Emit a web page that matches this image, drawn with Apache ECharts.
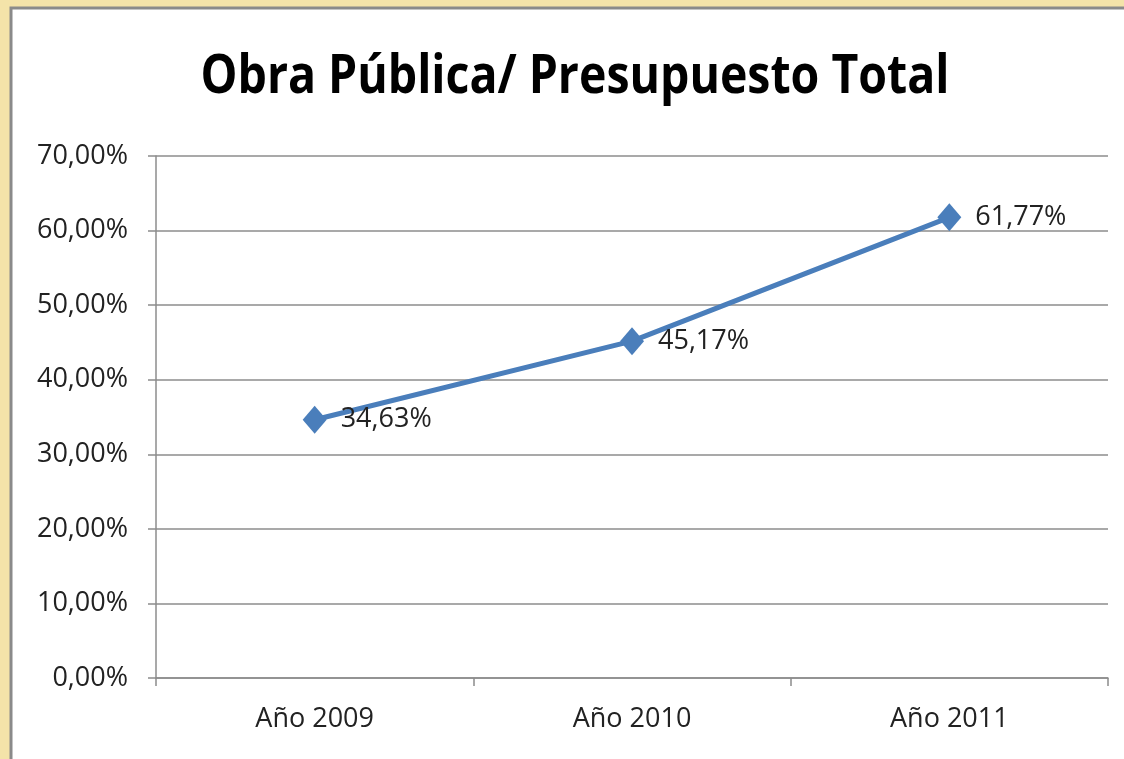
<!DOCTYPE html>
<html>
<head>
<meta charset="utf-8">
<script src="https://cdn.jsdelivr.net/npm/echarts@6/dist/echarts.min.js"></script>
<style>
  html, body { margin: 0; padding: 0; }
  #main { width: 1124px; height: 759px; }
</style>
</head>
<body>
<div id="main"></div>
<script>
// datos del gráfico
var categorias = ['Año 2009', 'Año 2010', 'Año 2011'];
var porcentajes = [34.63, 45.17, 61.77];

function fmtPct(v) {
  return v.toFixed(2).replace('.', ',') + '%';
}

var myChart = echarts.init(document.getElementById('main'));
var option = {
  backgroundColor: '#f4e3a9',
  animation: false,
  graphic: [{
    type: 'rect',
    z: -10,
    shape: { x: 11, y: 8, width: 1130, height: 770 },
    style: { fill: '#fff', stroke: '#8a8a8a', lineWidth: 3 }
  }, {
    // título (comprimido en X para parecerse a Calibri)
    type: 'text',
    x: 575,
    y: 78,
    scaleX: 0.86,
    style: {
      text: 'Obra Pública/ Presupuesto Total',
      font: 'bold 54px "Open Sans"',
      fill: '#000',
      align: 'center',
      verticalAlign: 'middle'
    }
  }],
  grid: { left: 156, right: 16, top: 156, bottom: 81 },
  xAxis: {
    type: 'category',
    data: categorias,
    boundaryGap: true,
    axisLine: { lineStyle: { color: '#8c8c8c', width: 1.5 } },
    axisTick: { show: true, length: 8, interval: 0, lineStyle: { color: '#8c8c8c', width: 1.5 } },
    axisLabel: { margin: 28, fontFamily: 'Open Sans', fontSize: 27, color: '#222' }
  },
  yAxis: {
    type: 'value',
    min: 0,
    max: 70,
    interval: 10,
    axisLine: { show: true, lineStyle: { color: '#8c8c8c', width: 1.5 } },
    axisTick: { show: true, length: 8, lineStyle: { color: '#8c8c8c', width: 1.5 } },
    splitLine: { lineStyle: { color: '#8c8c8c', width: 1.5 } },
    axisLabel: {
      margin: 28,
      fontFamily: 'Open Sans',
      fontSize: 27,
      color: '#222',
      formatter: function (v) { return fmtPct(v); }
    }
  },
  series: [{
    type: 'line',
    data: porcentajes,
    symbol: 'diamond',
    symbolSize: [24, 28],
    itemStyle: { color: '#4a7ebb' },
    lineStyle: { color: '#4a7ebb', width: 5 },
    label: {
      show: true,
      position: 'right',
      distance: 14,
      fontFamily: 'Open Sans',
      fontSize: 27,
      color: '#222',
      formatter: function (p) { return fmtPct(p.value); }
    }
  }]
};
myChart.setOption(option);
</script>
</body>
</html>
